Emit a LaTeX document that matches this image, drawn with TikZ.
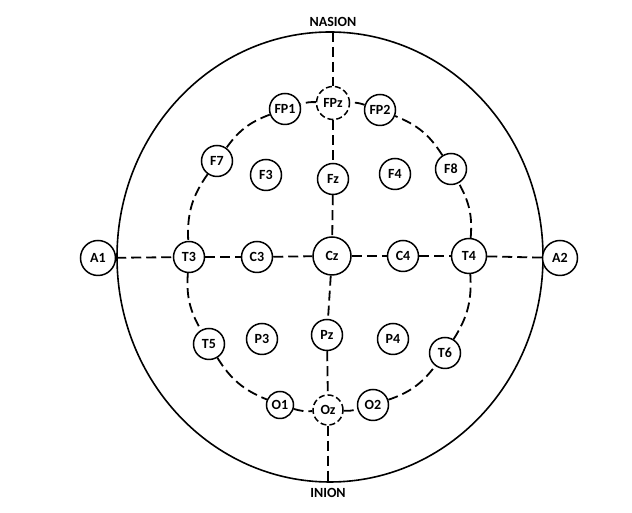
\documentclass[tikz,border=0pt]{standalone}
\usepackage{fontspec}
\setmainfont{Carlito}
\usepackage{tikz}
\usetikzlibrary{arrows,shapes}

\begin{document}
\begin{tikzpicture}[x=1pt,y=1pt]
\useasboundingbox (0,0) rectangle (632,513);
\tikzstyle{every node}=[draw,shape=circle,line width=1.5pt,minimum size=31pt,inner sep=0pt,fill=white,font=\fontsize{14}{16}\selectfont\bfseries];
\tikzstyle{link}=[line width=1.8pt,dash pattern=on 10pt off 5pt];
\tikzstyle{dashring}=[dash pattern=on 6pt off 3pt];
\tikzstyle{caption}=[draw=none,fill=none];
% head
\draw [line width=1.6pt] (330,256) ellipse [x radius=213, y radius=225];
\coordinate (top) at (333,481);
\coordinate (bottom) at (328,31);
\node [caption] (nasion) at (333,491) {NASION};
\node [caption] (inion) at (328,20) {INION};
% electrodes
\node [dashring,minimum size=33pt] (FPz) at (333,410) {FPz};
\node (FP1) at (285,404) {FP1};
\node (FP2) at (380,403) {FP2};
\node (F7) at (217,352) {F7};
\node (F3) at (266,338) {F3};
\node (Fz) at (333,334) {Fz};
\node (F4) at (395,339) {F4};
\node (F8) at (451,344) {F8};
\node (A1) at (98,255) [minimum size=35pt] {A1};
\node (T3) at (189,256) {T3};
\node (C3) at (257,256) {C3};
\node (Cz) at (332,257) [minimum size=38pt] {Cz};
\node (C4) at (403,257) {C4};
\node (T4) at (469,257) [minimum size=35pt] {T4};
\node (A2) at (560,255) [minimum size=35pt] {A2};
\node (T5) at (209,169) {T5};
\node (P3) at (262,174) {P3};
\node (Pz) at (327,178) {Pz};
\node (P4) at (393,174) {P4};
\node (T6) at (445,160) {T6};
\node (O1) at (280,108) [minimum size=27pt] {O1};
\node [dashring,minimum size=30pt] (Oz) at (328,103) {Oz};
\node (O2) at (373,108) {O2};
% midlines
\draw [link] (top) -- (FPz);
\draw [link] (FPz) -- (Fz);
\draw [link] (Fz) -- (Cz);
\draw [link] (Cz) -- (Pz);
\draw [link] (Pz) -- (Oz);
\draw [link] (Oz) -- (bottom);
\draw [link] (A1) -- (T3);
\draw [link] (T3) -- (C3);
\draw [link] (C3) -- (Cz);
\draw [link] (Cz) -- (C4);
\draw [link] (C4) -- (T4);
\draw [link] (T4) -- (A2);
% ring
\draw [link] (FPz) to [bend right=10] (FP1);
\draw [link] (FP1) to [bend right=17] (F7);
\draw [link] (F7) to [bend right=19] (T3);
\draw [link] (T3) to [bend right=17] (T5);
\draw [link] (T5) to [bend right=18] (O1);
\draw [link] (O1) to [bend right=10] (Oz);
\draw [link] (Oz) to [bend right=9] (O2);
\draw [link] (O2) to [bend right=17] (T6);
\draw [link] (T6) to [bend right=18] (T4);
\draw [link] (T4) to [bend right=17] (F8);
\draw [link] (F8) to [bend right=18] (FP2);
\draw [link] (FP2) to [bend right=10] (FPz);
\end{tikzpicture}
\end{document}
